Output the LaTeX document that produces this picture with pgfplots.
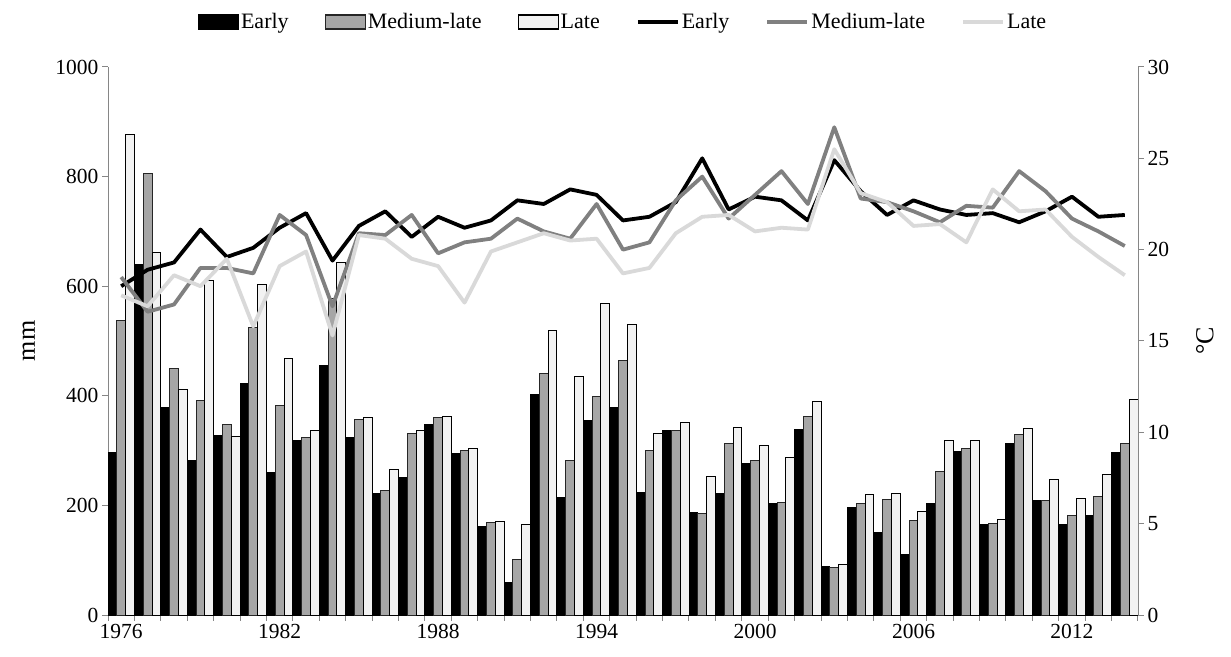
\documentclass[border=0pt]{standalone}
\usepackage{fontspec}
\setmainfont{Liberation Serif}
\usepackage{pgfplots}
\usepackage{pgfplotstable}
\pgfplotsset{compat=1.18}

\definecolor{medbar}{HTML}{A6A6A6}
\definecolor{latebar}{HTML}{F2F2F2}
\definecolor{medline}{HTML}{808080}
\definecolor{lateline}{HTML}{D9D9D9}
\definecolor{axisgray}{HTML}{868686}

% precipitation (mm) and mean temperature (degC) for the three groups
\pgfplotstableread{
year early med late tearly tmed tlate
1976 297 538 877 18.0 18.5 17.5
1977 640 805 661 18.9 16.6 16.9
1978 378 450 411 19.3 17.0 18.6
1979 282 391 611 21.1 19.0 18.0
1980 328 347 326 19.6 19.0 19.5
1981 422 525 603 20.1 18.7 15.8
1982 260 383 468 21.2 21.9 19.1
1983 319 324 337 22.0 20.8 19.9
1984 456 578 644 19.4 16.9 15.3
1985 324 357 360 21.3 20.9 20.8
1986 221 228 265 22.1 20.8 20.6
1987 251 332 337 20.7 21.9 19.5
1988 347 360 363 21.8 19.8 19.1
1989 294 301 303 21.2 20.4 17.1
1990 161 169 171 21.6 20.6 19.9
1991 60 101 166 22.7 21.7 20.4
1992 403 441 520 22.5 21.0 20.9
1993 215 282 436 23.3 20.6 20.5
1994 355 399 568 23.0 22.5 20.6
1995 378 464 531 21.6 20.0 18.7
1996 223 301 332 21.8 20.4 19.0
1997 336 337 352 22.6 22.7 20.9
1998 187 186 253 25.0 24.0 21.8
1999 221 313 343 22.2 21.7 21.9
2000 277 282 309 22.9 23.0 21.0
2001 204 205 287 22.7 24.3 21.2
2002 339 363 389 21.6 22.5 21.1
2003 88 87 93 24.9 26.7 25.5
2004 197 203 220 23.2 22.8 23.1
2005 150 211 222 21.9 22.6 22.6
2006 110 172 188 22.7 22.1 21.3
2007 203 262 318 22.2 21.5 21.4
2008 299 304 318 21.9 22.4 20.4
2009 165 167 174 22.0 22.3 23.3
2010 313 329 341 21.5 24.3 22.1
2011 209 209 248 22.1 23.2 22.2
2012 165 181 212 22.9 21.7 20.7
2013 182 217 257 21.8 21.0 19.6
2014 297 313 394 21.9 20.2 18.6
}\climate

\pgfplotsset{
  common/.style={
    scale only axis, width=1030pt, height=548pt,
    at={(108pt,41pt)}, anchor=south west,
    xmin=1975.5, xmax=2014.5,
    /pgf/number format/assume math mode=true,
    /pgf/number format/1000 sep={},
    tick label style={font=\fontsize{21.5}{25}\selectfont},
    axis line style={-, draw=axisgray, line width=1pt},
    every tick/.style={axisgray, line width=1pt},
    tick align=outside, major tick length=6pt, minor tick length=6pt,
  },
  barlegend/.style={legend image code/.code={\draw[##1, line width=1.2pt] (0pt,-7pt) rectangle (40pt,7pt);}},
  linelegend/.style={legend image code/.code={\draw[##1] (0pt,0.5pt) -- (40pt,0.5pt);}},
}

\begin{document}
\begin{tikzpicture}
\useasboundingbox (0pt,0pt) rectangle (1231pt,656pt);
\begin{axis}[common,
  axis x line*=bottom, axis y line*=left,
  ymin=0, ymax=1000, ytick={0,200,...,1000},
  xtick={1976,1982,1988,1994,2000,2006,2012},
  xticklabels={1976,1982,1988,1994,2000,2006,2012},
  major x tick style={draw=none},
  minor xtick={1975.5,1976.5,...,2014.5},
  ylabel={mm},
  every axis y label/.style={at={(axis description cs:-0.077,0.5)}, rotate=90, anchor=center,
    font=\fontsize{26}{30}\selectfont},
  ybar, bar width=0.3333,
  legend columns=6,
  legend style={at={(0.5,1.082)}, anchor=center, draw=none, fill=none,
    font=\fontsize{22}{26}\selectfont,
    /tikz/every even column/.append style={column sep=34pt},
    nodes={inner xsep=2pt}},
]
\addplot[barlegend, fill=black, draw=black, line width=1pt, bar shift=-0.3333] table[x=year, y=early]{\climate};
\addplot[barlegend, fill=medbar, draw=black!85, line width=1pt, bar shift=0] table[x=year, y=med]{\climate};
\addplot[barlegend, fill=latebar, draw=black, line width=1pt, bar shift=0.3333] table[x=year, y=late]{\climate};
\addlegendimage{linelegend, black, line width=4pt}
\addlegendimage{linelegend, medline, line width=4pt}
\addlegendimage{linelegend, lateline, line width=4pt}
\legend{Early, Medium-late, Late, Early, Medium-late, Late}
\end{axis}

\begin{axis}[common,
  axis x line=none, axis y line*=right,
  ymin=0, ymax=30, ytick={0,5,...,30},
  ylabel={°C},
  every axis y label/.style={at={(axis description cs:1.065,0.5)}, rotate=90, anchor=center,
    font=\fontsize{26}{30}\selectfont},
]
\addplot[black, line width=3.8pt, line join=round] table[x=year, y=tearly]{\climate};
\addplot[medline, line width=3.8pt, line join=round] table[x=year, y=tmed]{\climate};
\addplot[lateline, line width=3.8pt, line join=round] table[x=year, y=tlate]{\climate};
\end{axis}
\end{tikzpicture}
\end{document}
